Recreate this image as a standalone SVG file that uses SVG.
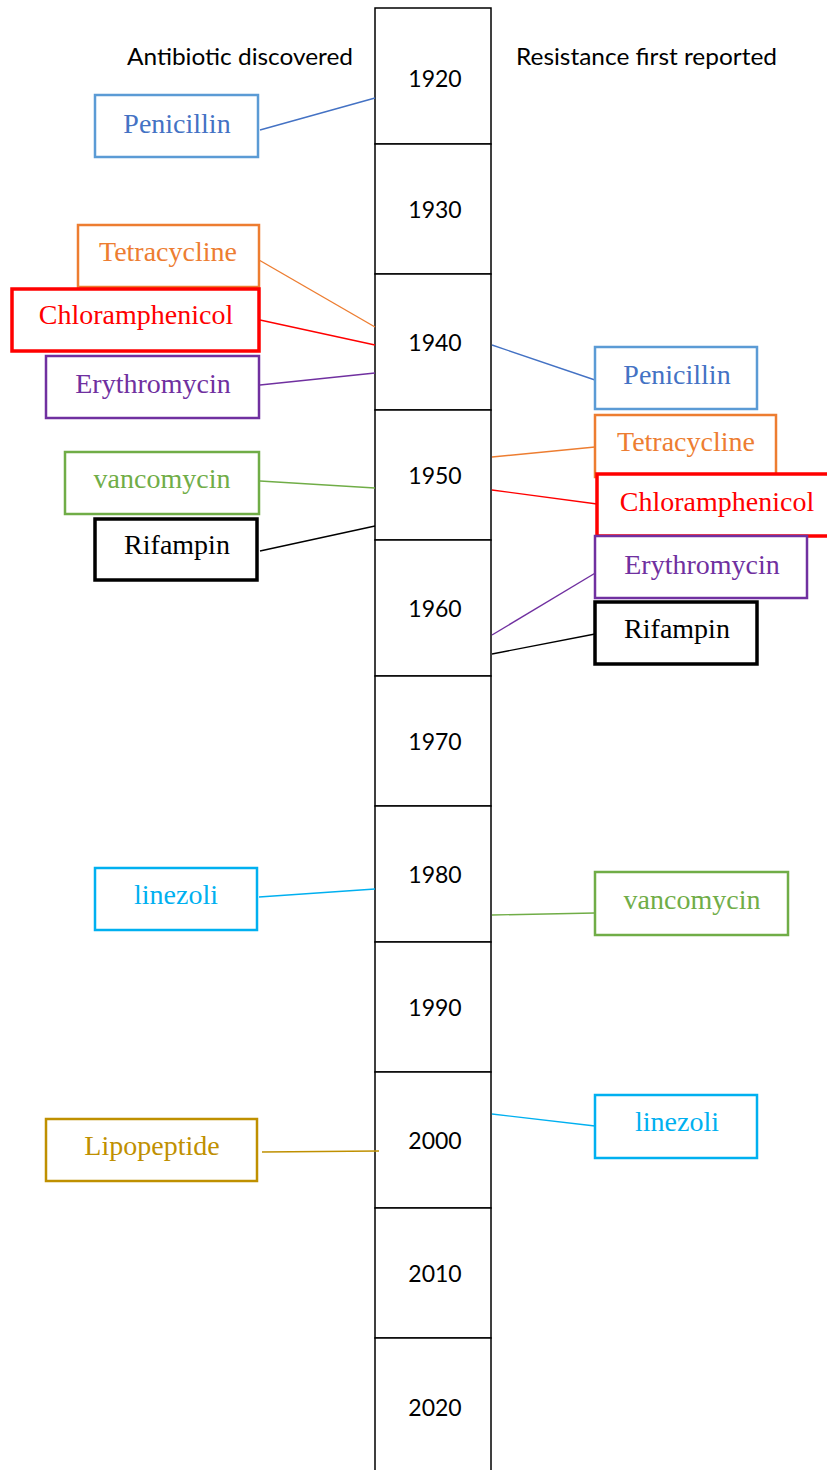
<svg xmlns="http://www.w3.org/2000/svg" width="827" height="1470" viewBox="0 0 827 1470">
<style>
.hdr{font-family:Lato,"Liberation Sans",sans-serif;font-size:24px;fill:#000}
.yr{font-family:Lato,"Liberation Sans",sans-serif;font-size:23px;fill:#000;text-anchor:middle}
.cell{fill:#fff;stroke:#000;stroke-width:1.5}
.box{fill:#fff;stroke-width:2.5}
.thick{stroke-width:3.5}
.lbl{font-family:"Liberation Serif","Times New Roman",serif;font-size:28px;text-anchor:middle}
.con line{stroke-width:1.4}
.pen{stroke:#5B9BD5}.penT{fill:#4472C4}
.tet{stroke:#ED7D31}.tetT{fill:#ED7D31}
.chl{stroke:#FF0000}.chlT{fill:#FF0000}
.ery{stroke:#7030A0}.eryT{fill:#7030A0}
.van{stroke:#70AD47}.vanT{fill:#70AD47}
.rif{stroke:#000}.rifT{fill:#000}
.lin{stroke:#00B0F0}.linT{fill:#00B0F0}
.lip{stroke:#BF9000}.lipT{fill:#BF9000}
</style>
<rect width="827" height="1470" fill="#fff"/>
<text class="hdr" x="127" y="65" textLength="226" lengthAdjust="spacingAndGlyphs">Antibiotic discovered</text>
<text class="hdr" x="516" y="65" textLength="261" lengthAdjust="spacingAndGlyphs">Resistance first reported</text>
<g id="timeline">
<rect class="cell" x="375" y="8" width="116" height="136"/>
<rect class="cell" x="375" y="144" width="116" height="130"/>
<rect class="cell" x="375" y="274" width="116" height="136"/>
<rect class="cell" x="375" y="410" width="116" height="130"/>
<rect class="cell" x="375" y="540" width="116" height="136"/>
<rect class="cell" x="375" y="676" width="116" height="130"/>
<rect class="cell" x="375" y="806" width="116" height="136"/>
<rect class="cell" x="375" y="942" width="116" height="130"/>
<rect class="cell" x="375" y="1072" width="116" height="136"/>
<rect class="cell" x="375" y="1208" width="116" height="130"/>
<rect class="cell" x="375" y="1338" width="116" height="140"/>
<text class="yr" x="435" y="87">1920</text>
<text class="yr" x="435" y="218">1930</text>
<text class="yr" x="435" y="351">1940</text>
<text class="yr" x="435" y="484">1950</text>
<text class="yr" x="435" y="617">1960</text>
<text class="yr" x="435" y="750">1970</text>
<text class="yr" x="435" y="883">1980</text>
<text class="yr" x="435" y="1016">1990</text>
<text class="yr" x="435" y="1149">2000</text>
<text class="yr" x="435" y="1282">2010</text>
<text class="yr" x="435" y="1416">2020</text>
</g>
<g id="connectors" class="con">
<line class="pen" x1="260" y1="130" x2="375" y2="98" style="stroke:#4472C4"/>
<line class="tet" x1="259" y1="260" x2="375" y2="327"/>
<line class="chl" x1="260" y1="320" x2="375" y2="345"/>
<line class="ery" x1="260" y1="385" x2="375" y2="373"/>
<line class="van" x1="260" y1="481" x2="375" y2="488"/>
<line class="rif" x1="260" y1="551" x2="375" y2="526"/>
<line class="lin" x1="259" y1="897" x2="375" y2="889"/>
<line class="lip" x1="262" y1="1152" x2="379" y2="1151"/>
<line class="pen" x1="492" y1="345" x2="595" y2="380" style="stroke:#4472C4"/>
<line class="tet" x1="492" y1="457" x2="595" y2="447"/>
<line class="chl" x1="492" y1="490" x2="597" y2="504"/>
<line class="ery" x1="492" y1="635" x2="597" y2="572"/>
<line class="rif" x1="492" y1="654" x2="595" y2="634"/>
<line class="van" x1="492" y1="915" x2="595" y2="913"/>
<line class="lin" x1="492" y1="1114" x2="595" y2="1126"/>
</g>
<g id="L-penicillin"><rect class="box pen" x="95" y="95" width="163" height="62"/><text class="lbl penT" x="177" y="133">Penicillin</text></g>
<g id="L-tetracycline"><rect class="box tet" x="78" y="225" width="181" height="62"/><text class="lbl tetT" x="168" y="261">Tetracycline</text></g>
<g id="L-chloramphenicol"><rect class="box thick chl" x="12" y="289" width="247" height="62"/><text class="lbl chlT" x="136" y="324">Chloramphenicol</text></g>
<g id="L-erythromycin"><rect class="box ery" x="46" y="356" width="213" height="62"/><text class="lbl eryT" x="153" y="393">Erythromycin</text></g>
<g id="L-vancomycin"><rect class="box van" x="65" y="452" width="194" height="62"/><text class="lbl vanT" x="162" y="488">vancomycin</text></g>
<g id="L-rifampin"><rect class="box thick rif" x="95" y="519" width="162" height="61"/><text class="lbl rifT" x="177" y="554">Rifampin</text></g>
<g id="L-linezoli"><rect class="box lin" x="95" y="868" width="162" height="62"/><text class="lbl linT" x="176" y="904">linezoli</text></g>
<g id="L-lipopeptide"><rect class="box lip" x="46" y="1119" width="211" height="62"/><text class="lbl lipT" x="152" y="1155">Lipopeptide</text></g>
<g id="R-penicillin"><rect class="box pen" x="595" y="347" width="162" height="62"/><text class="lbl penT" x="677" y="384">Penicillin</text></g>
<g id="R-tetracycline"><rect class="box tet" x="595" y="415" width="181" height="62"/><text class="lbl tetT" x="686" y="451">Tetracycline</text></g>
<g id="R-chloramphenicol"><rect class="box thick chl" x="597" y="474" width="242" height="62"/><text class="lbl chlT" x="717" y="511">Chloramphenicol</text></g>
<g id="R-erythromycin"><rect class="box ery" x="595" y="536" width="212" height="62"/><text class="lbl eryT" x="702" y="574">Erythromycin</text></g>
<g id="R-rifampin"><rect class="box thick rif" x="595" y="602" width="162" height="62"/><text class="lbl rifT" x="677" y="638">Rifampin</text></g>
<g id="R-vancomycin"><rect class="box van" x="595" y="872" width="193" height="63"/><text class="lbl vanT" x="692" y="909">vancomycin</text></g>
<g id="R-linezoli"><rect class="box lin" x="595" y="1095" width="162" height="63"/><text class="lbl linT" x="677" y="1131">linezoli</text></g>
</svg>
